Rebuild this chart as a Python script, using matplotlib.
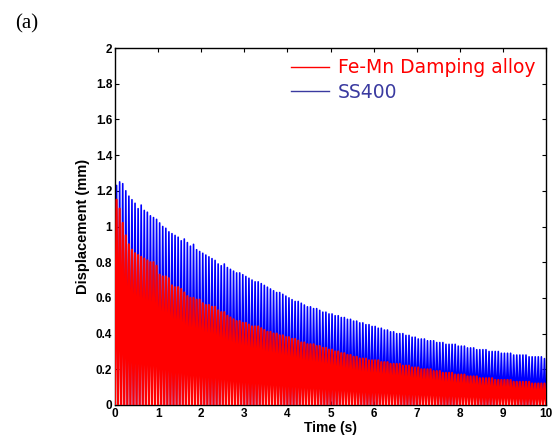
import matplotlib
matplotlib.use('Agg')
import matplotlib.pyplot as plt
import numpy as np

# peak displacement of each cycle (mm), 14 cycles per second
ss400_peaks = [
    1.23, 1.25, 1.24, 1.20, 1.17, 1.15, 1.13, 1.10, 1.12, 1.09, 1.08, 1.06, 1.05, 1.04,
    1.02, 1.00, 0.99, 0.97, 0.96, 0.95, 0.94, 0.92, 0.93, 0.91, 0.89, 0.90, 0.87, 0.86,
    0.85, 0.84, 0.83, 0.82, 0.81, 0.79, 0.78, 0.79, 0.77, 0.76, 0.75, 0.74, 0.74, 0.73,
    0.72, 0.71, 0.70, 0.69, 0.69, 0.68, 0.67, 0.66, 0.65, 0.64, 0.63, 0.63, 0.62, 0.61,
    0.60, 0.59, 0.58, 0.58, 0.57, 0.56, 0.55, 0.55, 0.54, 0.54, 0.53, 0.52, 0.52, 0.51,
    0.51, 0.50, 0.50, 0.49, 0.49, 0.48, 0.48, 0.47, 0.47, 0.46, 0.46, 0.45, 0.45, 0.44,
    0.44, 0.43, 0.43, 0.42, 0.42, 0.41, 0.41, 0.40, 0.40, 0.40, 0.39, 0.39, 0.38, 0.38,
    0.37, 0.37, 0.37, 0.36, 0.36, 0.36, 0.35, 0.35, 0.35, 0.34, 0.34, 0.34, 0.34, 0.33,
    0.33, 0.33, 0.32, 0.32, 0.32, 0.31, 0.31, 0.31, 0.31, 0.30, 0.30, 0.30, 0.30, 0.29,
    0.29, 0.29, 0.29, 0.28, 0.28, 0.28, 0.28, 0.28, 0.27, 0.27, 0.27, 0.27, 0.27, 0.26,
]
femn_peaks = [
    1.15, 1.10, 1.02, 0.95, 0.90, 0.87, 0.85, 0.84, 0.83, 0.82, 0.81, 0.80, 0.80, 0.78,
    0.73, 0.72, 0.72, 0.71, 0.67, 0.66, 0.66, 0.65, 0.63, 0.61, 0.60, 0.60, 0.59, 0.59,
    0.57, 0.56, 0.56, 0.55, 0.55, 0.53, 0.52, 0.52, 0.50, 0.49, 0.48, 0.47, 0.47, 0.46,
    0.46, 0.45, 0.44, 0.44, 0.44, 0.43, 0.42, 0.41, 0.41, 0.40, 0.40, 0.39, 0.39, 0.38,
    0.38, 0.37, 0.37, 0.36, 0.35, 0.35, 0.34, 0.34, 0.34, 0.33, 0.33, 0.32, 0.32, 0.31,
    0.31, 0.30, 0.30, 0.29, 0.29, 0.28, 0.28, 0.27, 0.27, 0.26, 0.26, 0.26, 0.25, 0.25,
    0.25, 0.25, 0.24, 0.24, 0.24, 0.23, 0.23, 0.23, 0.23, 0.22, 0.22, 0.22, 0.21, 0.21,
    0.21, 0.20, 0.20, 0.20, 0.20, 0.19, 0.19, 0.19, 0.18, 0.18, 0.18, 0.18, 0.17, 0.17,
    0.17, 0.17, 0.16, 0.16, 0.16, 0.16, 0.15, 0.15, 0.15, 0.15, 0.15, 0.14, 0.14, 0.14,
    0.14, 0.14, 0.14, 0.13, 0.13, 0.13, 0.13, 0.13, 0.13, 0.12, 0.12, 0.12, 0.12, 0.12,
]
trough = 0.0
t_end = 10.0

def series(peaks):
    # alternate trough / peak for each cycle
    y = []
    for p in peaks:
        y += [trough, p]
    y.append(trough)
    t = np.linspace(0, t_end, len(y))
    return t, np.array(y)

fig = plt.figure(figsize=(5.6, 4.43), dpi=100)
ax = fig.add_axes([0.2054, 0.0858, 0.7696, 0.8058])

tb, yb = series(ss400_peaks)
tr, yr = series(femn_peaks)
lb, = ax.plot(tb, yb, color='blue', lw=1.2, zorder=2)
lr, = ax.plot(tr, yr, color='red', lw=1.6, zorder=3)

ax.set_xlim(0, 10)
ax.set_ylim(0, 2)
ax.set_xticks(np.arange(0, 11, 1))
ax.set_yticks(np.arange(0, 2.01, 0.2))
ax.set_yticklabels(['0', '0.2', '0.4', '0.6', '0.8', '1', '1.2', '1.4', '1.6', '1.8', '2'])
ax.tick_params(direction='in', top=True, right=True, length=3, width=0.8, pad=2)
for lab in ax.get_xticklabels() + ax.get_yticklabels():
    lab.set_fontfamily('Liberation Sans')
    lab.set_fontweight('bold')
    lab.set_fontsize(8.5)
ax.set_xlabel('Time (s)', fontfamily='Liberation Sans', fontweight='bold', fontsize=10, labelpad=1)
ax.set_ylabel('Displacement (mm)', fontfamily='Liberation Sans', fontweight='bold', fontsize=10.5, labelpad=4)
for s in ax.spines.values():
    s.set_linewidth(1.0)

leg = ax.legend([lr, lb], ['Fe-Mn Damping alloy', 'SS400'], loc='upper right',
                frameon=False, prop={'family': 'DejaVu Sans', 'size': 13.5},
                handlelength=2.0, borderaxespad=0.15, labelspacing=0.3, handletextpad=0.5)
leg.get_lines()[0].set_linewidth(1.0)
leg.get_lines()[1].set_linewidth(1.0)
leg.get_lines()[1].set_color('#3a3aa0')
leg.get_texts()[0].set_color('red')
leg.get_texts()[1].set_color('#3a3aa0')

fig.text(0.027, 0.935, '(a)', fontfamily='Liberation Serif', fontsize=15)

fig.savefig('out.png', dpi=100)
